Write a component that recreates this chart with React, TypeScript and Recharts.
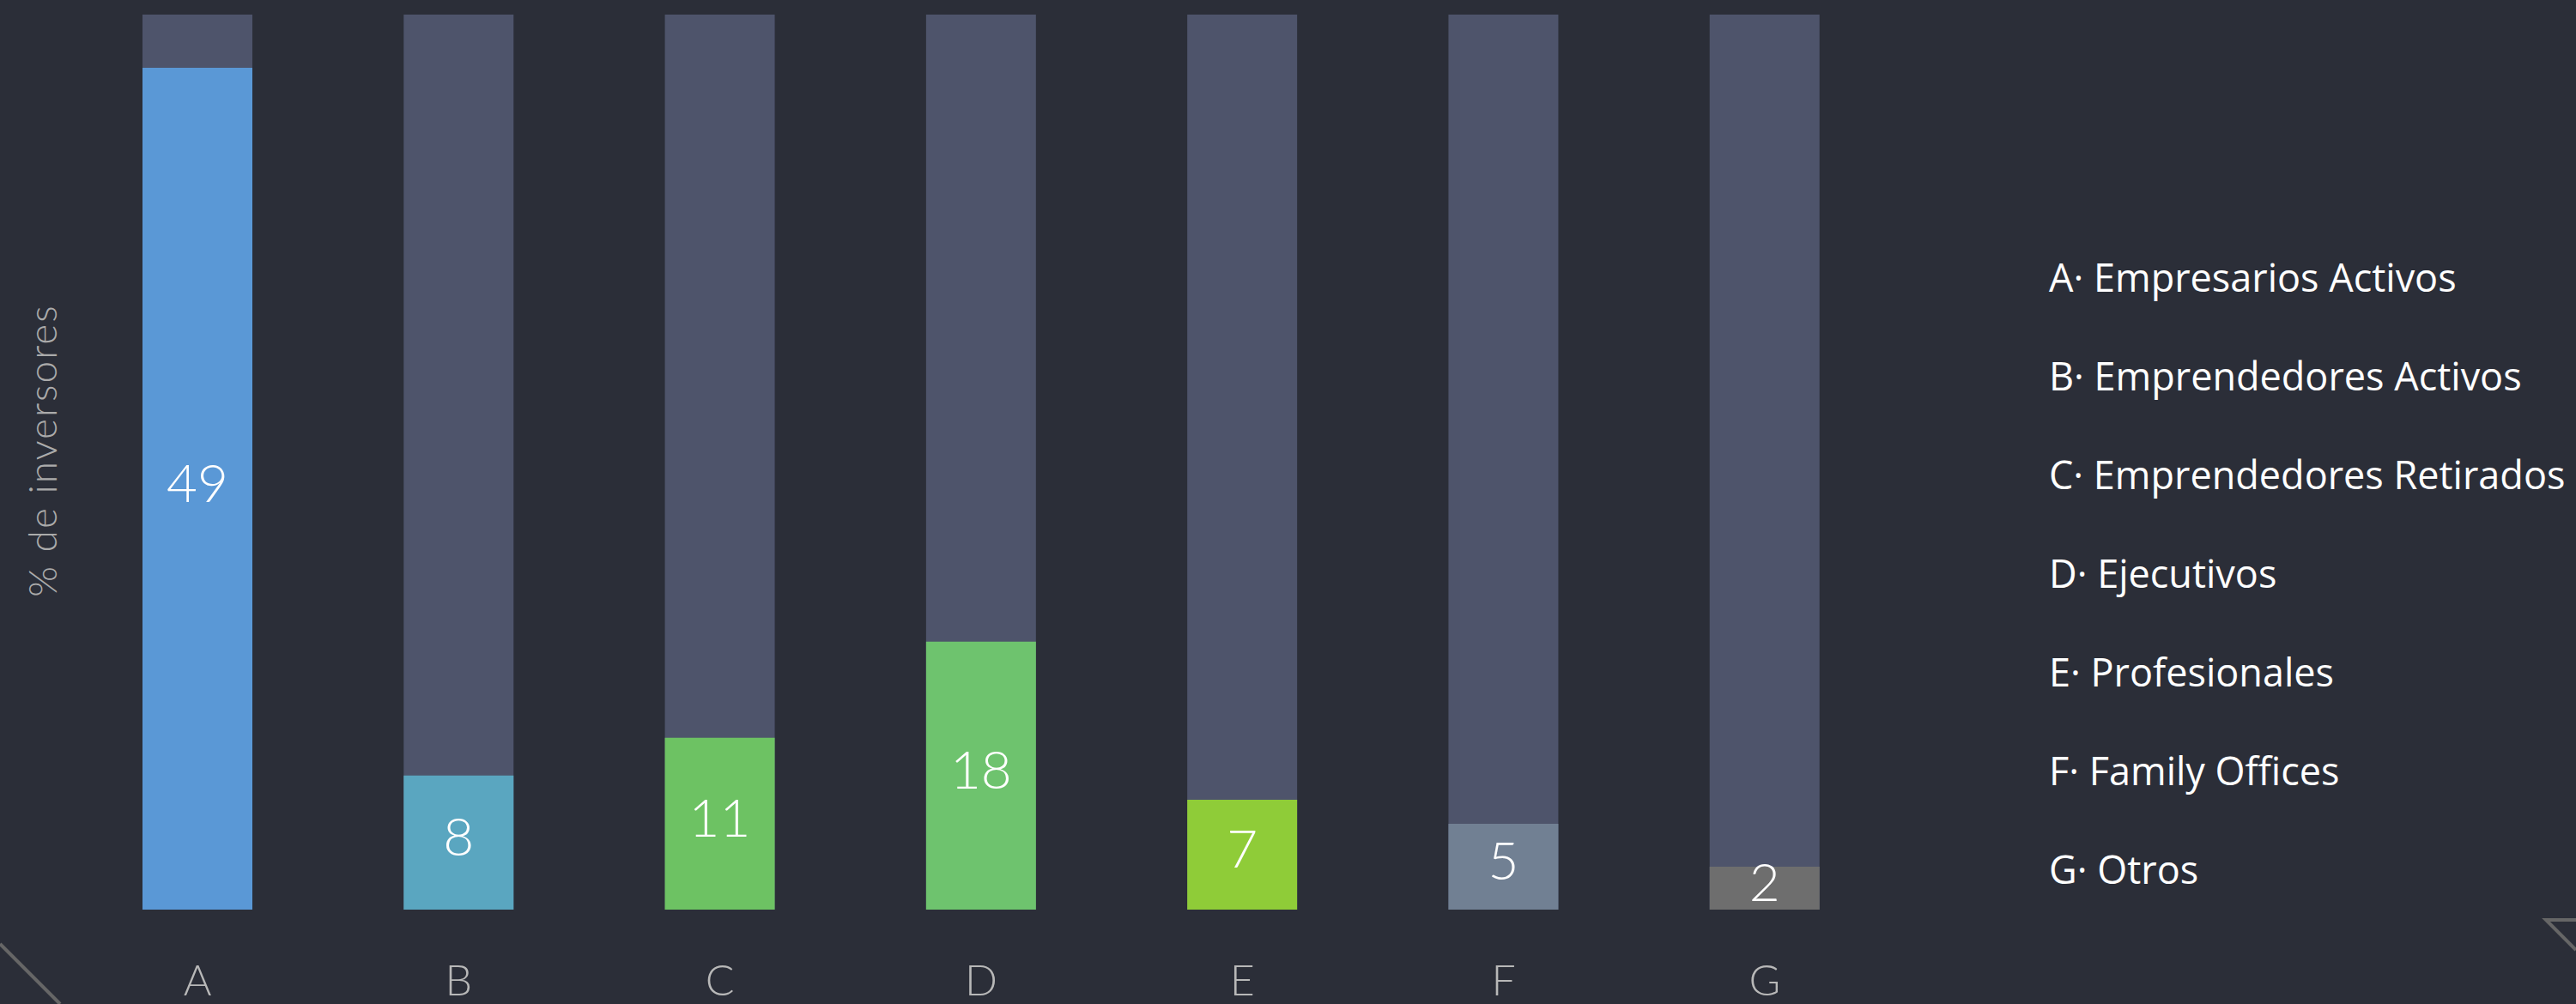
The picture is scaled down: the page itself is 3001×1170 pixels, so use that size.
import React from "react";
import { BarChart, Bar, XAxis, YAxis, Cell, LabelList } from "recharts";

const categories = ["A", "B", "C", "D", "E", "F", "G"];
const legendNames = [
  "Empresarios Activos",
  "Emprendedores Activos",
  "Emprendedores Retirados",
  "Ejecutivos",
  "Profesionales",
  "Family Offices",
  "Otros",
];
// bar heights as drawn, printed labels as shown on the bars
const barValues = [49, 7.8, 10, 15.6, 6.4, 5, 2.5];
const valueLabels = ["49", "8", "11", "18", "7", "5", "2"];
const barColors = ["#5a98d6", "#5aa6c0", "#6dc263", "#6ec36e", "#8fcc38", "#718093", "#6e6e6e"];
const scaleMax = 52.1;

const data = categories.map((c, i) => ({
  cat: c,
  value: barValues[i],
  label: valueLabels[i],
}));

if (typeof document !== "undefined") {
  document.body.style.margin = "0";
}

const BarLabel = (props: any) => {
  const vb = props.viewBox || {};
  const x = props.x ?? vb.x;
  const y = props.y ?? vb.y;
  const w = props.width ?? vb.width;
  const h = props.height ?? vb.height;
  return (
    <text
      x={x + w / 2}
      y={y + h / 2 - 9}
      textAnchor="middle"
      dominantBaseline="central"
      fill="#ffffff"
      fontSize={62}
      fontFamily="Lato, sans-serif"
      fontWeight={300}
    >
      {props.value}
    </text>
  );
};

const CatTick = (props: any) => {
  const { x, y, payload } = props;
  return (
    <text
      x={x}
      y={y + 100}
      textAnchor="middle"
      fill="#b8b8b8"
      fontSize={50}
      fontFamily="Lato, sans-serif"
      fontWeight={300}
    >
      {payload.value}
    </text>
  );
};

export default function App() {
  return (
    <div
      style={{
        position: "relative",
        width: 3001,
        height: 1170,
        background: "#2b2e38",
        overflow: "hidden",
      }}
    >
      <BarChart
        width={2208}
        height={1170}
        data={data}
        margin={{ top: 17, right: 0, left: 78, bottom: 0 }}
      >
        <XAxis
          dataKey="cat"
          axisLine={false}
          tickLine={false}
          tickSize={0}
          tickMargin={0}
          height={110}
          interval={0}
          tick={<CatTick />}
        />
        <YAxis hide domain={[0, scaleMax]} />
        <Bar
          dataKey="value"
          barSize={128}
          background={{ fill: "#4e546b" }}
          isAnimationActive={false}
        >
          {data.map((d, i) => (
            <Cell key={d.cat} fill={barColors[i]} />
          ))}
          <LabelList dataKey="label" content={<BarLabel />} />
        </Bar>
      </BarChart>

      <svg
        width={3001}
        height={1170}
        style={{ position: "absolute", left: 0, top: 0, pointerEvents: "none" }}
      >
        {/* y axis title */}
        <text
          x={48}
          y={525}
          transform="rotate(-90 48 525)"
          textAnchor="middle"
          dominantBaseline="central"
          fill="#ababab"
          fontSize={46}
          fontFamily="Lato, sans-serif"
          fontWeight={300}
          letterSpacing={2}
        >
          % de inversores
        </text>

        {/* legend */}
        {categories.map((c, i) => (
          <text
            key={c}
            x={2387}
            y={340 + i * 115}
            fill="#ffffff"
            fontSize={45}
            fontFamily="'Open Sans', sans-serif"
          >
            {`${c}· ${legendNames[i]}`}
          </text>
        ))}

        {/* corner decorations */}
        <line x1={0} y1={1100} x2={70} y2={1170} stroke="#666666" strokeWidth={4} />
        <polyline
          points="3001,1072 2966,1072 3001,1107"
          fill="none"
          stroke="#666666"
          strokeWidth={4}
        />
      </svg>
    </div>
  );
}
